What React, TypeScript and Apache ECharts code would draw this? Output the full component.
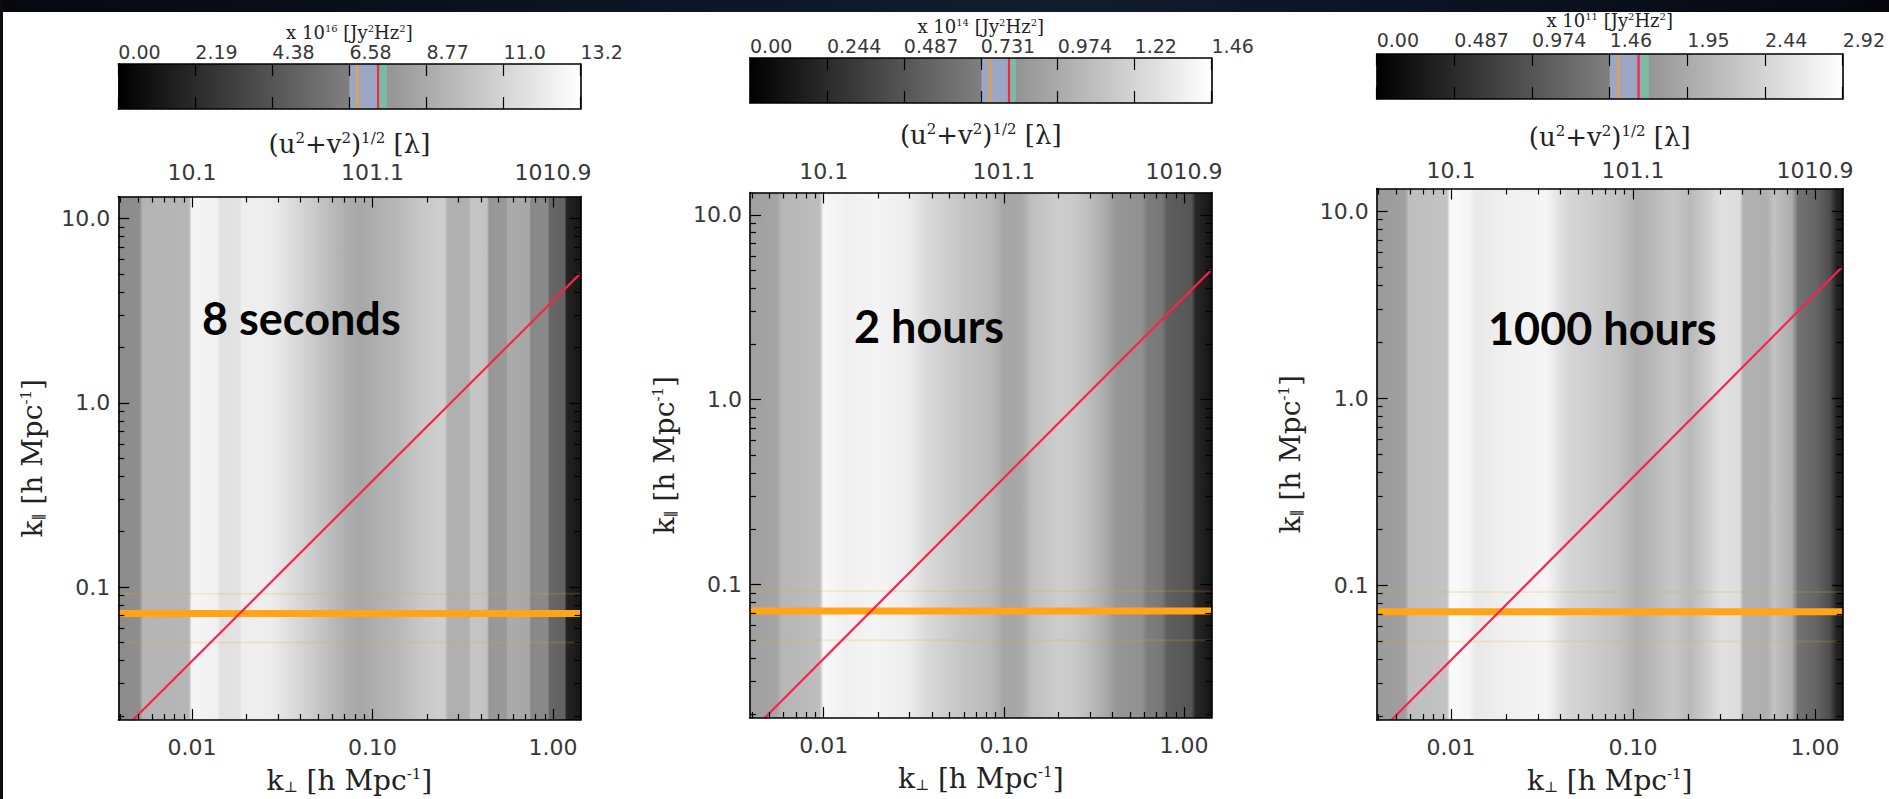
import React, { useEffect, useRef } from 'react';
import * as echarts from 'echarts';

// ---------- shared axes ----------
const kPerpRange: [number, number] = [0.0039, 1.42]; // h Mpc^-1
const kParRange: [number, number] = [0.019, 13.2]; // h Mpc^-1
const lambdaPerK = 1010.9; // baseline length in wavelengths per unit k_perp

const kPerpTicks = [0.01, 0.1, 1];
const kPerpTickLabels = ['0.01', '0.10', '1.00'];
const baselineTicks = [10.109, 101.09, 1010.9];
const baselineTickLabels = ['10.1', '101.1', '1010.9'];
const kParTicks = [0.1, 1, 10];
const kParTickLabels = ['0.1', '1.0', '10.0'];

// foreground wedge boundary and horizon lines (k_par vs k_perp)
const wedgeLine = [
  [0.0047, 0.019],
  [1.42, 5.05],
];
const horizonKPar = 0.072;
const horizonFaintKPar = [0.092, 0.05];

// ---------- per-panel data ----------
const integrationLabels = ['8 seconds', '2 hours', '1000 hours'];
const powerExponents = ['16', '14', '11'];
const powerMax = [13.15, 1.461, 2.922];
const colorbarLabels8s = ['0.00', '2.19', '4.38', '6.58', '8.77', '11.0', '13.2'];
const colorbarLabels2h = ['0.00', '0.244', '0.487', '0.731', '0.974', '1.22', '1.46'];
const colorbarLabels1000h = ['0.00', '0.487', '0.974', '1.46', '1.95', '2.44', '2.92'];

// power profile along k_perp (colour-bar units)
const kPerp8s = [0.0039, 0.0051, 0.0053, 0.0096, 0.0099, 0.0139, 0.0142, 0.0183, 0.0188, 0.027, 0.034, 0.05, 0.07, 0.085, 0.137, 0.186, 0.25, 0.26, 0.34, 0.35, 0.43, 0.44, 0.55, 0.56, 0.74, 0.75, 0.93, 0.95, 1.16, 1.18, 1.42];
const power8s = [7.2, 7.3, 9.3, 9.4, 12.7, 12.4, 11.6, 11.7, 12.3, 12.2, 11.5, 10.2, 9.0, 8.6, 9.5, 10.3, 10.7, 9.0, 9.1, 10.2, 10.0, 7.8, 7.9, 8.8, 8.6, 7.0, 7.1, 5.3, 5.0, 1.8, 1.2];

const kPerp2h = [0.0039, 0.0055, 0.0058, 0.0095, 0.0099, 0.0134, 0.0196, 0.0287, 0.037, 0.0565, 0.085, 0.1, 0.125, 0.14, 0.2, 0.25, 0.31, 0.38, 0.42, 0.58, 0.62, 0.75, 0.8, 1.1, 1.15, 1.42];
const power2h = [0.917, 0.945, 1.043, 1.089, 1.421, 1.375, 1.398, 1.364, 1.249, 1.134, 1.06, 0.945, 0.962, 1.089, 1.174, 1.146, 1.06, 0.945, 0.859, 0.831, 0.716, 0.687, 0.544, 0.487, 0.229, 0.115];

const kPerp1000h = [0.0039, 0.0056, 0.0058, 0.0095, 0.0098, 0.0126, 0.0135, 0.0201, 0.0333, 0.043, 0.081, 0.105, 0.14, 0.165, 0.205, 0.241, 0.3, 0.386, 0.4, 0.545, 0.587, 0.748, 0.8, 1.026, 1.21, 1.3, 1.42];
const power1000h = [1.776, 1.833, 2.177, 2.235, 2.865, 2.807, 2.658, 2.75, 2.807, 2.464, 2.235, 2.005, 2.177, 2.292, 2.12, 2.292, 2.578, 2.521, 2.04, 2.005, 2.235, 1.948, 1.318, 1.146, 0.859, 0.401, 0.286];

// colour-bar markers: [band start, band end], orange, red, [teal start, teal end]
const cbBand = [[6.575, 7.64], [0.733, 0.841], [1.461, 1.706]];
const cbOrange = [6.8, 0.76, 1.516];
const cbRed = [7.39, 0.82, 1.642];
const cbTeal = [[7.43, 7.64], [0.824, 0.841], [1.662, 1.706]];

const panels = [
  { kPerp: kPerp8s, power: power8s, cbLabels: colorbarLabels8s },
  { kPerp: kPerp2h, power: power2h, cbLabels: colorbarLabels2h },
  { kPerp: kPerp1000h, power: power1000h, cbLabels: colorbarLabels1000h },
];

// ---------- layout ----------
const layout = [
  { left: 118.3, top: 196.5, width: 462.2, height: 524.5, cbTop: 64, text: [202, 318], topLabelMargin: 13, topNameGap: 40, cbLabelMargin: 3, cbNameGap: 19 },
  { left: 750, top: 192.5, width: 461.5, height: 525.5, cbTop: 58, text: [854, 326], topLabelMargin: 10, topNameGap: 45, cbLabelMargin: 3, cbNameGap: 19 },
  { left: 1376.7, top: 188.5, width: 466, height: 533.5, cbTop: 54, text: [1488, 328], topLabelMargin: 7, topNameGap: 39, cbLabelMargin: 5, cbNameGap: 20 },
];
const cbHeight = 45;

const INK = '#000';
const TEXT = '#383838';
const SANS = 'DejaVu Sans';
const SERIF = 'DejaVu Serif';

const rich = {
  sup: { fontFamily: SERIF, fontSize: 15, verticalAlign: 'top', color: '#222' },
  sub: { fontFamily: SERIF, fontSize: 15, verticalAlign: 'bottom', color: '#222' },
};

function labelFor(ticks: number[], labels: string[]) {
  return (v: number) => {
    const i = ticks.findIndex((t) => Math.abs(Math.log10(t) - Math.log10(v)) < 1e-3);
    return i >= 0 ? labels[i] : '';
  };
}

function minorTicks(range: [number, number], scale = 1) {
  const out: number[] = [];
  for (let e = Math.floor(Math.log10(range[0])); e <= Math.ceil(Math.log10(range[1])); e++) {
    for (let d = 2; d <= 9; d++) {
      const v = d * Math.pow(10, e);
      if (v > range[0] && v < range[1]) out.push(v * scale);
    }
  }
  return out;
}

function gray(v: number, max: number) {
  const g = Math.max(0, Math.min(255, Math.round((v / max) * 255)));
  return `rgb(${g},${g},${g})`;
}

function buildOption() {
  const grid: any[] = [];
  const xAxis: any[] = [];
  const yAxis: any[] = [];
  const series: any[] = [];
  const graphic: any[] = [
    {
      type: 'rect',
      shape: { x: 0, y: 0, width: 1889, height: 12 },
      style: {
        fill: new echarts.graphic.LinearGradient(0, 0, 1, 0, [
          { offset: 0, color: '#06080e' },
          { offset: 0.35, color: '#0c1624' },
          { offset: 0.55, color: '#111c2c' },
          { offset: 0.8, color: '#0a1220' },
          { offset: 1, color: '#05070c' },
        ]),
      },
      silent: true,
    },
    { type: 'rect', shape: { x: 0, y: 0, width: 3, height: 799 }, style: { fill: '#0b0d12' }, silent: true },
  ];

  const tickLine = { color: INK, width: 1.2 };
  const axisLineStyle = { color: INK, width: 1.6 };
  const baselineRange: [number, number] = [kPerpRange[0] * lambdaPerK, kPerpRange[1] * lambdaPerK];
  const kPerpMinor = minorTicks(kPerpRange);
  const baselineMinor = minorTicks(kPerpRange, lambdaPerK);
  const kParMinor = minorTicks(kParRange);
  const AZ = 10; // axes drawn above the image

  panels.forEach((pd, p) => {
    const L = layout[p];
    const max = powerMax[p];
    const g = 2 * p;
    const b = 6 * p;
    grid.push({ left: L.left, top: L.top, width: L.width, height: L.height });
    grid.push({ left: L.left, top: L.cbTop, width: L.width, height: cbHeight });

    // ----- main plot x axes -----
    xAxis.push({
      type: 'log', logBase: 10, gridIndex: g, position: 'bottom', z: AZ,
      min: kPerpRange[0], max: kPerpRange[1],
      axisLine: { show: true, onZero: false, lineStyle: axisLineStyle },
      axisTick: { show: true, inside: true, length: 11, customValues: kPerpTicks, lineStyle: tickLine },
      axisLabel: {
        show: true, customValues: kPerpTicks, formatter: labelFor(kPerpTicks, kPerpTickLabels),
        fontFamily: SANS, fontSize: 22, color: TEXT, margin: 16,
      },
      splitLine: { show: false },
      name: 'k{sub|⊥} [h Mpc{sup|-1}]', nameLocation: 'middle', nameGap: 46,
      nameTextStyle: { fontFamily: SERIF, fontSize: 28, color: '#222', rich },
    });
    xAxis.push({
      type: 'log', logBase: 10, gridIndex: g, position: 'bottom', z: AZ,
      min: kPerpRange[0], max: kPerpRange[1],
      axisLine: { show: false },
      axisTick: { show: true, inside: true, length: 6, customValues: kPerpMinor, lineStyle: tickLine },
      axisLabel: { show: false }, splitLine: { show: false },
    });
    xAxis.push({
      type: 'log', logBase: 10, gridIndex: g, position: 'top', z: AZ,
      min: baselineRange[0], max: baselineRange[1],
      axisLine: { show: true, onZero: false, lineStyle: axisLineStyle },
      axisTick: { show: true, inside: true, length: 11, customValues: baselineTicks, lineStyle: tickLine },
      axisLabel: {
        show: true, customValues: baselineTicks, formatter: labelFor(baselineTicks, baselineTickLabels),
        fontFamily: SANS, fontSize: 22, color: TEXT, margin: L.topLabelMargin,
      },
      splitLine: { show: false },
      name: '(u{sup|2}+v{sup|2}){sup|1/2} [λ]', nameLocation: 'middle', nameGap: L.topNameGap,
      nameTextStyle: { fontFamily: SERIF, fontSize: 26, color: '#222', rich },
    });
    xAxis.push({
      type: 'log', logBase: 10, gridIndex: g, position: 'top', z: AZ,
      min: baselineRange[0], max: baselineRange[1],
      axisLine: { show: false },
      axisTick: { show: true, inside: true, length: 6, customValues: baselineMinor, lineStyle: tickLine },
      axisLabel: { show: false }, splitLine: { show: false },
    });
    // ----- colour bar x axes -----
    const cbTicks = [0, 1, 2, 3, 4, 5, 6].map((i) => (i * max) / 6);
    xAxis.push({
      type: 'value', gridIndex: g + 1, position: 'top', min: 0, max, z: AZ,
      axisLine: { show: true, onZero: false, lineStyle: axisLineStyle },
      axisTick: { show: true, inside: true, length: 12, customValues: cbTicks, lineStyle: tickLine },
      axisLabel: {
        show: true, customValues: cbTicks, align: 'left',
        formatter: (v: number) => pd.cbLabels[Math.round((v / max) * 6)],
        fontFamily: SANS, fontSize: 19, color: TEXT, margin: L.cbLabelMargin,
      },
      splitLine: { show: false },
      name: 'x 10{sup|' + powerExponents[p] + '} [Jy{sup|2}Hz{sup|2}]', nameLocation: 'middle', nameGap: L.cbNameGap,
      nameTextStyle: { fontFamily: SERIF, fontSize: 18, color: '#222', rich: { sup: { fontFamily: SERIF, fontSize: 10, verticalAlign: 'top', color: '#222' } } },
    });
    xAxis.push({
      type: 'value', gridIndex: g + 1, position: 'bottom', min: 0, max, z: AZ,
      axisLine: { show: true, onZero: false, lineStyle: axisLineStyle },
      axisTick: { show: true, inside: true, length: 12, customValues: cbTicks, lineStyle: tickLine },
      axisLabel: { show: false }, splitLine: { show: false },
    });

    // ----- main plot y axes -----
    yAxis.push({
      type: 'log', logBase: 10, gridIndex: g, position: 'left', z: AZ,
      min: kParRange[0], max: kParRange[1],
      axisLine: { show: true, onZero: false, lineStyle: axisLineStyle },
      axisTick: { show: true, inside: true, length: 11, customValues: kParTicks, lineStyle: tickLine },
      axisLabel: {
        show: true, customValues: kParTicks, formatter: labelFor(kParTicks, kParTickLabels),
        fontFamily: SANS, fontSize: 22, color: TEXT, margin: 8,
      },
      splitLine: { show: false },
      name: 'k{sub|∥} [h Mpc{sup|-1}]', nameLocation: 'middle', nameGap: 72, nameRotate: 90,
      nameTextStyle: { fontFamily: SERIF, fontSize: 28, color: '#222', rich },
    });
    yAxis.push({
      type: 'log', logBase: 10, gridIndex: g, position: 'left', z: AZ,
      min: kParRange[0], max: kParRange[1],
      axisLine: { show: false },
      axisTick: { show: true, inside: true, length: 6, customValues: kParMinor, lineStyle: tickLine },
      axisLabel: { show: false }, splitLine: { show: false },
    });
    yAxis.push({
      type: 'log', logBase: 10, gridIndex: g, position: 'right', z: AZ,
      min: kParRange[0], max: kParRange[1],
      axisLine: { show: true, onZero: false, lineStyle: axisLineStyle },
      axisTick: { show: true, inside: true, length: 11, customValues: kParTicks, lineStyle: tickLine },
      axisLabel: { show: false }, splitLine: { show: false },
    });
    yAxis.push({
      type: 'log', logBase: 10, gridIndex: g, position: 'right', z: AZ,
      min: kParRange[0], max: kParRange[1],
      axisLine: { show: false },
      axisTick: { show: true, inside: true, length: 6, customValues: kParMinor, lineStyle: tickLine },
      axisLabel: { show: false }, splitLine: { show: false },
    });
    // ----- colour bar y axes (frame only) -----
    yAxis.push({
      type: 'value', gridIndex: g + 1, position: 'left', min: 0, max: 1, z: AZ,
      axisLine: { show: true, onZero: false, lineStyle: axisLineStyle },
      axisTick: { show: false }, axisLabel: { show: false }, splitLine: { show: false },
    });
    yAxis.push({
      type: 'value', gridIndex: g + 1, position: 'right', min: 0, max: 1, z: AZ,
      axisLine: { show: true, onZero: false, lineStyle: axisLineStyle },
      axisTick: { show: false }, axisLabel: { show: false }, splitLine: { show: false },
    });

    // ----- power image: piecewise shading between profile samples -----
    const segments = pd.kPerp.slice(0, -1).map((k, i) => [k, pd.kPerp[i + 1], pd.power[i], pd.power[i + 1]]);
    series.push({
      type: 'custom', xAxisIndex: b, yAxisIndex: b, clip: true, silent: true, z: 1,
      encode: { x: [0, 1], y: 2 },
      data: segments,
      renderItem: (_params: any, api: any) => {
        const p0 = api.coord([api.value(0), kParRange[1]]);
        const p1 = api.coord([api.value(1), kParRange[0]]);
        return {
          type: 'rect',
          shape: { x: p0[0], y: p0[1], width: p1[0] - p0[0] + 0.8, height: p1[1] - p0[1] },
          style: {
            fill: {
              type: 'linear', x: 0, y: 0, x2: 1, y2: 0,
              colorStops: [
                { offset: 0, color: gray(api.value(2), max) },
                { offset: 1, color: gray(api.value(3), max) },
              ],
            },
          },
        };
      },
    });

    // faint horizon echoes
    horizonFaintKPar.forEach((kp) => {
      series.push({
        type: 'line', xAxisIndex: b, yAxisIndex: b, silent: true, symbol: 'none', z: 3,
        data: [[kPerpRange[0], kp], [kPerpRange[1], kp]],
        lineStyle: { color: '#f5a623', width: 2, opacity: 0.18 },
      });
    });
    // horizon line
    series.push({
      type: 'line', xAxisIndex: b, yAxisIndex: b, silent: true, symbol: 'none', z: 4,
      data: [[kPerpRange[0], horizonKPar], [kPerpRange[1], horizonKPar]],
      lineStyle: { color: '#ffa516', width: 7 },
    });
    // wedge line
    series.push({
      type: 'line', xAxisIndex: b, yAxisIndex: b, silent: true, symbol: 'none', z: 5,
      data: wedgeLine,
      lineStyle: { color: '#ff1f4e', width: 2.2 },
    });

    // ----- colour bar -----
    series.push({
      type: 'custom', xAxisIndex: b + 4, yAxisIndex: b + 4, clip: true, silent: true, z: 1,
      encode: { x: [0, 1] },
      data: [[0, max]],
      renderItem: (_params: any, api: any) => {
        const p0 = api.coord([api.value(0), 1]);
        const p1 = api.coord([api.value(1), 0]);
        return {
          type: 'rect',
          shape: { x: p0[0], y: p0[1], width: p1[0] - p0[0], height: p1[1] - p0[1] },
          style: {
            fill: {
              type: 'linear', x: 0, y: 0, x2: 1, y2: 0,
              colorStops: [
                { offset: 0, color: gray(0, max) },
                { offset: 1, color: gray(max, max) },
              ],
            },
          },
        };
      },
    });
    const half = (max / 462) * 1.1;
    series.push({
      type: 'custom', xAxisIndex: b + 4, yAxisIndex: b + 4, clip: true, silent: true, z: 2,
      encode: { x: [0, 1] },
      data: [
        { value: [cbBand[p][0], cbBand[p][1]], itemStyle: { color: '#9ba7c4' } },
        { value: [cbTeal[p][0], cbTeal[p][1]], itemStyle: { color: '#79bca0' } },
        { value: [cbOrange[p] - half, cbOrange[p] + half], itemStyle: { color: '#e9a23a' } },
        { value: [cbRed[p] - half, cbRed[p] + half], itemStyle: { color: '#ee2a44' } },
      ],
      renderItem: (_params: any, api: any) => {
        const p0 = api.coord([api.value(0), 1]);
        const p1 = api.coord([api.value(1), 0]);
        return {
          type: 'rect',
          shape: { x: p0[0], y: p0[1], width: p1[0] - p0[0], height: p1[1] - p0[1] },
          style: { fill: api.visual('color') },
        };
      },
    });

    graphic.push({
      type: 'text', x: L.text[0], y: L.text[1], silent: true, z: 10,
      style: {
        text: integrationLabels[p], fill: '#000',
        font: 'bold 45px Lato', fontFamily: 'Lato', fontWeight: 'bold', fontSize: 45,
        textAlign: 'left', textVerticalAlign: 'middle', align: 'left', verticalAlign: 'middle',
      },
    });
  });

  return { animation: false, backgroundColor: '#fff', grid, xAxis, yAxis, series, graphic };
}

export default function App() {
  const ref = useRef<HTMLDivElement>(null);
  useEffect(() => {
    if (!ref.current) return;
    const chart = echarts.init(ref.current, null, { renderer: 'svg' });
    chart.setOption(buildOption() as any);
    return () => chart.dispose();
  }, []);
  return (
    <div
      ref={ref}
      style={{ position: 'fixed', left: 0, top: 0, width: 1889, height: 799, background: '#fff' }}
    />
  );
}
